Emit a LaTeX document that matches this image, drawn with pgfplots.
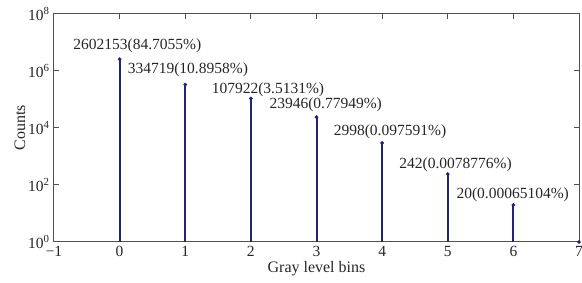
\documentclass[border=0pt]{standalone}
\usepackage{pgfplots}
\pgfplotsset{compat=1.18}
\usepackage{fontspec}
\setmainfont{Liberation Serif}
\definecolor{stem}{RGB}{34,34,120}
\definecolor{axgray}{RGB}{80,80,80}
\begin{document}
\begin{tikzpicture}
\begin{axis}[
  scale only axis, width=525pt, height=228pt,
  ymode=log, log basis y=10,
  xmin=-1, xmax=7, ymin=1, ymax=1e8,
  xtick={-1,0,1,2,3,4,5,6,7},
  xticklabels={−1,0,1,2,3,4,5,6,7},
  ytick={1,1e2,1e4,1e6,1e8},
  yticklabels={10\textsuperscript{0},10\textsuperscript{2},10\textsuperscript{4},10\textsuperscript{6},10\textsuperscript{8}},
  minor ytick={},
  tick align=inside, tick pos=both,
  major tick length=5pt,
  axis line style={axgray, line width=1pt},
  every tick/.style={axgray, line width=1pt},
  ticklabel style={font=\fontsize{15.5}{17}\selectfont, text=black!85},
  xticklabel style={yshift=-1pt},
  yticklabel style={xshift=-1pt},
  xlabel={Gray level bins}, ylabel={Counts},
  label style={font=\fontsize{16}{18}\selectfont, text=black!85},
  xlabel style={yshift=2pt},
  ylabel style={yshift=-4pt},
  clip=false,
]
\addplot[ycomb, draw=stem, line width=2pt] coordinates {
  (0,2602153) (1,334719) (2,107922) (3,23946) (4,2998) (5,242) (6,20) (7,1)
};
\addplot[only marks, mark=*, mark size=1.7pt, stem] coordinates {
  (0,2602153) (1,334719) (2,107922) (3,23946) (4,2998) (5,242) (6,20) (7,1)
};
\begin{scope}[every node/.style={font=\fontsize{15.5}{17}\selectfont, text=black!85, inner sep=0pt}]
\node at (axis cs:0.27,7.6e6) {2602153(84.7055\%)};
\node at (axis cs:1.04,1.1e6) {334719(10.8958\%)};
\node at (axis cs:2.26,2.14e5) {107922(3.5131\%)};
\node at (axis cs:3.14,6.5e4) {23946(0.77949\%)};
\node at (axis cs:4.12,7.2e3) {2998(0.097591\%)};
\node at (axis cs:5.12,5.0e2) {242(0.0078776\%)};
\node at (axis cs:5.99,4.5e1) {20(0.00065104\%)};
\end{scope}
\coordinate (sw) at (rel axis cs:0,0);
\coordinate (ne) at (rel axis cs:1,1);
\end{axis}
\pgfresetboundingbox
\path[use as bounding box] ([shift={(-54pt,-41pt)}]sw) rectangle ([shift={(3pt,14pt)}]ne);
\end{tikzpicture}
\end{document}
